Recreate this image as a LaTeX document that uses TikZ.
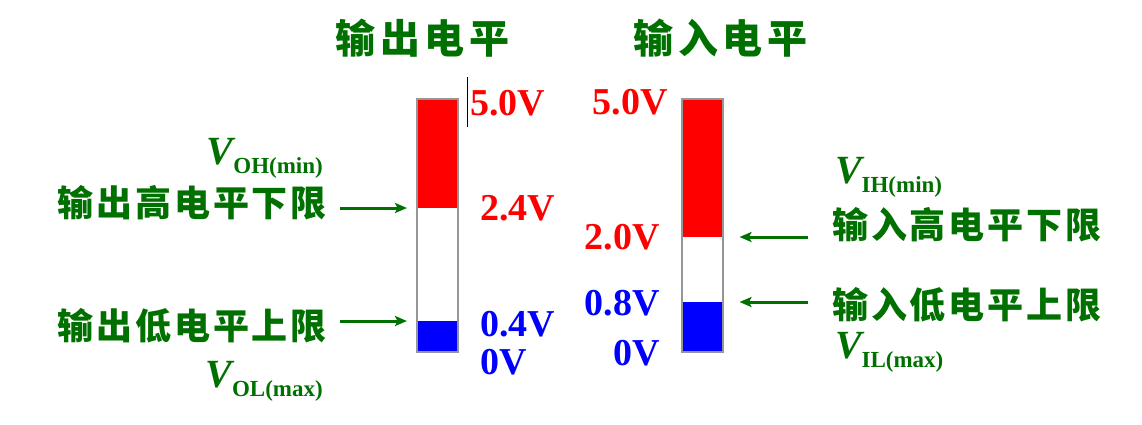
\documentclass[tikz,border=0pt]{standalone}
\usepackage{fontspec}
\setmainfont{Liberation Serif}
\newfontfamily\cjk{Noto Sans CJK SC}[LetterSpace=12]
\newfontfamily\cjkbody{Noto Sans CJK SC}[LetterSpace=8]
\usepackage{xcolor}
\usepackage{tikz}
\usetikzlibrary{arrows.meta,positioning}

\definecolor{lvgreen}{RGB}{0,112,0}
\definecolor{lvred}{RGB}{255,0,0}
\definecolor{lvblue}{RGB}{0,0,255}
\definecolor{framegray}{RGB}{150,150,150}

\newcommand{\vsub}[1]{\textit{V}\kern-3pt\raisebox{-9pt}{\fontsize{23}{26}\selectfont #1}}

\begin{document}
\begin{tikzpicture}[
    x=1pt, y=-1pt,
    title/.style={
        text=lvgreen,
        inner sep=0pt,
        font=\cjk\bfseries\fontsize{40}{44}\selectfont
    },
    cntext/.style={
        text=lvgreen,
        inner sep=0pt,
        font=\cjkbody\bfseries\fontsize{36}{40}\selectfont
    },
    vlabel/.style={
        text=lvgreen,
        inner sep=0pt,
        font=\bfseries\fontsize{40}{44}\selectfont
    },
    volt/.style={
        inner sep=0pt,
        font=\bfseries\fontsize{38}{42}\selectfont
    },
    barseg/.style={
        inner sep=0pt,
        outer sep=0pt,
        minimum width=41pt
    },
    barframe/.style={
        draw=framegray,
        line width=2pt,
        inner sep=0pt,
        minimum width=41pt
    },
    arr/.style={-{Stealth[length=12pt,width=10pt,inset=2.5pt]}, line width=3pt, draw=lvgreen}
]
\useasboundingbox (0,0) rectangle (1142,424);

% titles
\node[title] (outtitle) at (422.5,38) {输出电平};
\node[title] (intitle) at (720.5,38) {输入电平};

% output bar
\node[barseg, fill=lvred, minimum height=109pt, anchor=north] (ohi) at (437.5,99) {};
\node[barseg, fill=lvblue, minimum height=31pt, anchor=south] (olo) at (437.5,352) {};
\node[barframe, minimum height=253pt] (obar) at (437.5,225.5) {};

% input bar
\node[barseg, fill=lvred, minimum height=138pt, anchor=north] (ihi) at (702,99) {};
\node[barseg, fill=lvblue, minimum height=50pt, anchor=south] (ilo) at (702,352) {};
\node[barframe, minimum height=253pt] (ibar) at (702,225.5) {};

\draw[black, line width=1pt] (467.5,77) -- (467.5,127);

% output voltages
\node[volt, text=lvred, anchor=base west] (ofive) at (470,115) {5.0V};
\node[volt, text=lvred, anchor=base west] (ohv) at (480,220) {2.4V};
\node[volt, text=lvblue, anchor=base west] (olv) at (480,336) {0.4V};
\node[volt, text=lvblue, anchor=base west] (ozero) at (480,374) {0V};

% input voltages
\node[volt, text=lvred, anchor=base east] (ifive) at (668,114) {5.0V};
\node[volt, text=lvred, anchor=base east] (ihv) at (660,249) {2.0V};
\node[volt, text=lvblue, anchor=base east] (ilv) at (660,315) {0.8V};
\node[volt, text=lvblue, anchor=base east] (izero) at (660,365) {0V};

% output side labels
\node[vlabel, anchor=base east] (vohmin) at (323,164) {\vsub{OH(min)}};
\node[cntext, anchor=east] (ohtext) at (327,203) {输出高电平下限};
\node[cntext, anchor=east] (oltext) at (327,326) {输出低电平上限};
\node[vlabel, anchor=base east] (volmax) at (323,387) {\vsub{OL(max)}};

\draw[arr] ([xshift=13pt]ohtext.east |- ohi.south west) -- ([xshift=-10pt]ohi.south west);
\draw[arr] ([xshift=13pt]oltext.east |- olo.north west) -- ([xshift=-10pt]olo.north west);

% input side labels
\node[vlabel, anchor=base west] (vihmin) at (835,183) {\vsub{IH(min)}};
\node[cntext, anchor=west] (ihtext) at (832,225) {输入高电平下限};
\node[cntext, anchor=west] (iltext) at (832,305) {输入低电平上限};
\node[vlabel, anchor=base west] (vilmax) at (835,358) {\vsub{IL(max)}};

\draw[arr] ([xshift=-24pt]ihtext.west |- ihi.south east) -- ([xshift=17pt]ihi.south east);
\draw[arr] ([xshift=-24pt]iltext.west |- ilo.north east) -- ([xshift=17pt]ilo.north east);

\end{tikzpicture}
\end{document}
